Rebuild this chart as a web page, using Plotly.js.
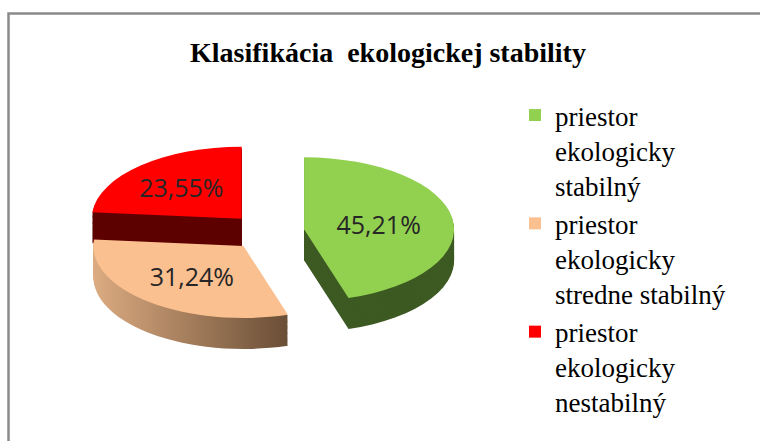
<!DOCTYPE html>
<html><head><meta charset="utf-8">
<script src="https://cdn.plot.ly/plotly-3.0.1.min.js"></script>
<style>html,body{margin:0;padding:0;background:#fff}#chart{width:760px;height:441px}</style>
</head><body><div id="chart"></div>
<script>
// ---- data ----
const categories = [
  'priestor<br>ekologicky<br>stabilný',
  'priestor<br>ekologicky<br>stredne stabilný',
  'priestor<br>ekologicky<br>nestabilný'
];
const shares = [45.21, 31.24, 23.55];
const chartTitle = 'Klasifikácia\u00a0\u00a0ekologickej stability';

// ---- style ----
const topColors = ['#92d050', '#fac090', '#ff0000'];
const sideColors = ['#3c5a22', '#a9845f', '#5e0000'];

const W = 760, H = 441;
const cx = 267, cy = 232;          // on-screen center of the tilted pie
const a = 150, b = 72;             // ellipse half axes
const pull = 0.25, depth = 31;
const k = b / a;
const outerR = a * (1 + pull);
const xDom = [(cx - outerR) / W, (cx + outerR) / W];
const srcCy = outerR;
const nLayers = 26;

const traces = [];
for (let i = nLayers; i >= 1; i--) {
  const shift = (depth / k) * i / nLayers;
  traces.push({
    type: 'pie', labels: categories, values: shares, sort: false,
    direction: 'clockwise', rotation: 0, pull: shares.map(() => pull),
    domain: { x: xDom, y: [1 - 2 * outerR / H - shift / H, 1 - shift / H] },
    marker: { colors: sideColors, line: { width: 0 } },
    textinfo: 'none', hoverinfo: 'skip', showlegend: false
  });
}
traces.push({
  type: 'pie', labels: categories, values: shares, sort: false,
  direction: 'clockwise', rotation: 0, pull: shares.map(() => pull),
  domain: { x: xDom, y: [1 - 2 * outerR / H, 1] },
  marker: { colors: topColors, line: { width: 0 } },
  texttemplate: '%{percent:.2%}', textposition: 'inside',
  insidetextorientation: 'horizontal',
  insidetextfont: { family: 'Open Sans', size: 25, color: '#262626' },
  hoverinfo: 'skip', showlegend: true
});

const serifStack = '"Liberation Serif", "Times New Roman", serif';

const layout = {
  width: W, height: H, margin: { l: 0, r: 0, t: 0, b: 0 },
  paper_bgcolor: '#ffffff', separators: ', ',
  font: { family: serifStack, color: '#000' },
  title: {
    text: chartTitle,
    font: { family: serifStack, size: 28, color: '#000', weight: 700 },
    x: 388 / W, xanchor: 'center', y: 1 - 52 / H, yanchor: 'middle'
  },
  legend: {
    x: 515 / W, xanchor: 'left', y: 1 - 91 / H, yanchor: 'top', valign: 'top',
    font: { family: serifStack, size: 27, color: '#000' },
    bgcolor: 'rgba(0,0,0,0)', itemwidth: 30
  },
  shapes: [{
    type: 'rect', xref: 'paper', yref: 'paper',
    x0: 8.5 / W, x1: 1.02, y0: -0.02, y1: 1 - 13.5 / H,
    line: { color: '#8a8a8a', width: 2.5 }, fillcolor: 'rgba(0,0,0,0)', layer: 'below'
  }]
};

Plotly.newPlot('chart', traces, layout, { staticPlot: true }).then(gd => {
  // tilt the pie into an ellipse, keep the labels upright
  const layer = gd.querySelector('.pielayer');
  layer.setAttribute('transform', `translate(0,${cy}) scale(1,${k}) translate(0,${-srcCy})`);
  layer.querySelectorAll('g.slicetext text').forEach(t => {
    const bb = t.getBBox();
    const c = bb.y + bb.height / 2;
    const tr = t.getAttribute('transform') || '';
    t.setAttribute('transform', tr + ` translate(0,${c}) scale(1,${1 / k}) translate(0,${-c})`);
  });
  // horizontal shading on the side of the middle slice
  const svg = layer.ownerSVGElement;
  const NS = 'http://www.w3.org/2000/svg';
  const defs = document.createElementNS(NS, 'defs');
  const grad = document.createElementNS(NS, 'linearGradient');
  grad.setAttribute('id', 'sideGrad1');
  grad.setAttribute('x1', '0'); grad.setAttribute('x2', '1');
  grad.setAttribute('y1', '0'); grad.setAttribute('y2', '0');
  [['0', '#dcab81'], ['1', '#6a4e36']].forEach(([o, c]) => {
    const s = document.createElementNS(NS, 'stop');
    s.setAttribute('offset', o); s.setAttribute('stop-color', c);
    grad.appendChild(s);
  });
  defs.appendChild(grad); svg.insertBefore(defs, svg.firstChild);
  const groups = layer.querySelectorAll('g.trace');
  groups.forEach((g, gi) => {
    if (gi === groups.length - 1) return;
    const slices = g.querySelectorAll('g.slice');
    if (slices[1]) slices[1].querySelector('path.surface').style.fill = 'url(#sideGrad1)';
  });
});
</script>
</body></html>
